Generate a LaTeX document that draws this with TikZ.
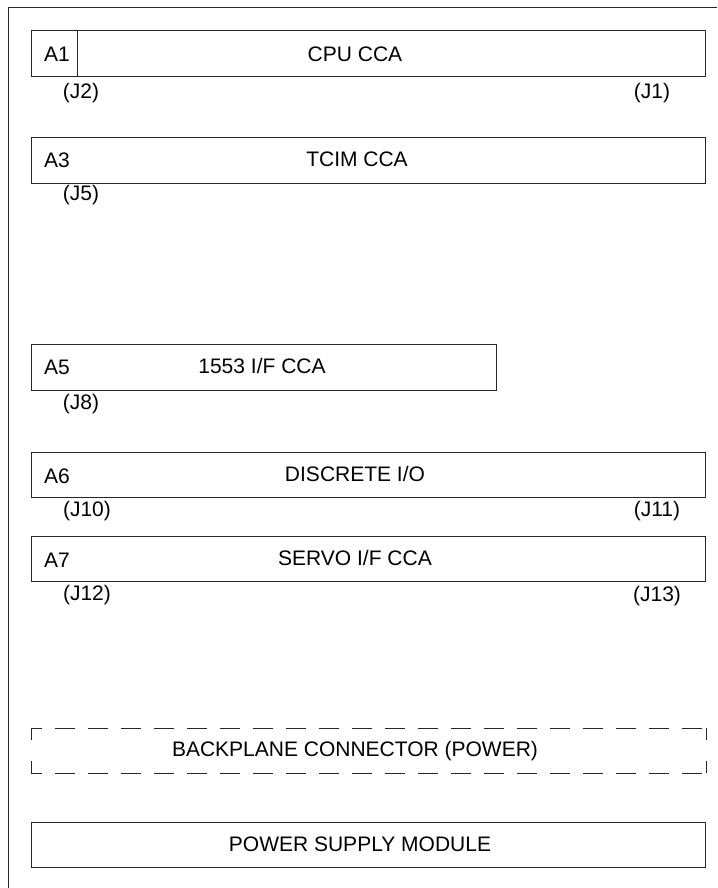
\documentclass[tikz,border=0pt]{standalone}
\usepackage{fontspec}
\setmainfont{Liberation Sans}
\usetikzlibrary{positioning}

\newcommand*{\xleft}{31}
\newcommand*{\xright}{705}

\begin{document}
\begin{tikzpicture}
[
	x=1pt,y=-1pt,
	card/.style={draw=black!85,line width=1pt},
	hdash/.style={draw=black!85,line width=1pt,dash pattern=on 20pt off 13pt,dash phase=9pt},
	vdash/.style={draw=black!85,line width=1pt,dash pattern=on 12pt off 21pt},
	txt/.style={inner sep=0pt,font=\fontsize{21}{24}\selectfont},
	jack/.style={inner sep=0pt,font=\fontsize{21}{24}\selectfont}
]
	\useasboundingbox (0,0) rectangle (717,888);

	% chassis edge
	\draw[black!85,line width=1pt] (8,888) -- (8,8) -- (717,8);

	% cards
	\draw[card] (\xleft,31) rectangle (\xright,77);
	\draw[card] (77,31) -- (77,77);
	\draw[card] (\xleft,137) rectangle (\xright,183);
	\draw[card] (\xleft,344) rectangle (496,390);
	\draw[card] (\xleft,452) rectangle (\xright,497);
	\draw[card] (\xleft,536) rectangle (\xright,581);

	% backplane
	\draw[hdash] (\xleft,728) -- (706,728);
	\draw[hdash] (\xleft,773) -- (706,773);
	\draw[vdash] (\xleft,728) -- (\xleft,773);
	\draw[vdash] (706,728) -- (706,773);

	% power supply
	\draw[card] (\xleft,822) rectangle (\xright,867);

	\node[txt] (a1) at (57,54) {A1};
	\node[txt] (cpu) at (355,54) {CPU CCA};
	\node[jack] (j2) at (81,93) {(J2)};
	\node[jack] (j1) at (652,93) {(J1)};

	\node[txt] (a3) at (57,160) {A3};
	\node[txt] (tcim) at (357,159) {TCIM CCA};
	\node[jack] (j5) at (81,195) {(J5)};

	\node[txt] (a5) at (57,367) {A5};
	\node[txt] (mil) at (262,366) {1553 I/F CCA};
	\node[jack] (j8) at (81,404) {(J8)};

	\node[txt] (a6) at (57,476) {A6};
	\node[txt] (dio) at (355,474) {DISCRETE I/O};
	\node[jack] (j10) at (87,511) {(J10)};
	\node[jack] (j11) at (657,511) {(J11)};

	\node[txt] (a7) at (57,560) {A7};
	\node[txt] (servo) at (355,558) {SERVO I/F CCA};
	\node[jack] (j12) at (87,595) {(J12)};
	\node[jack] (j13) at (657,596) {(J13)};

	\node[txt] (bp) at (355,751) {BACKPLANE CONNECTOR (POWER)};
	\node[txt] (psm) at (360,844) {POWER SUPPLY MODULE};

\end{tikzpicture}
\end{document}
